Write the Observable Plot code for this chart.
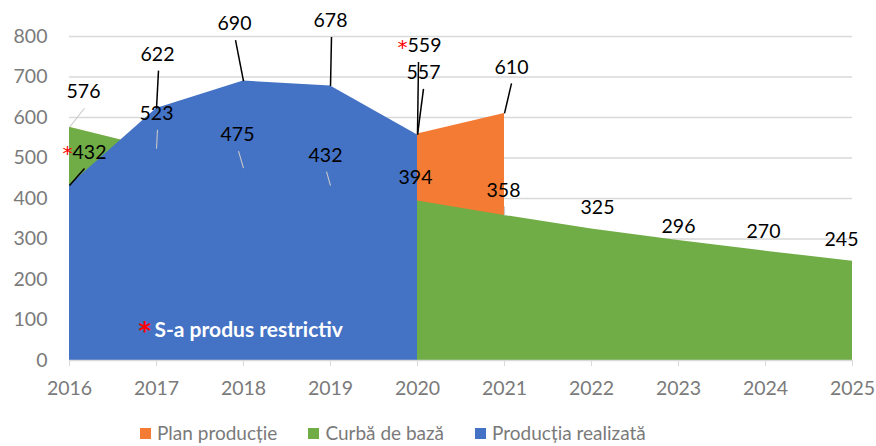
<!DOCTYPE html>
<html>
<head>
<meta charset="utf-8">
<script src="https://cdn.jsdelivr.net/npm/d3@7"></script>
<script src="https://cdn.jsdelivr.net/npm/@observablehq/plot@0.6"></script>
<style>
  html, body { margin: 0; padding: 0; background: #fff; overflow: hidden; }
  #wrap { position: relative; width: 876px; height: 446px; overflow: hidden; font-family: Lato, "Open Sans", sans-serif; }
  #legend { position: absolute; left: 140px; top: 423px; display: flex; align-items: center; font-size: 19px; line-height: 20px; color: #7a7a7a; white-space: nowrap; }
  #legend .item { display: flex; align-items: center; margin-right: 31px; }
  #legend .sw { width: 11px; height: 11px; margin-right: 6px; }
</style>
</head>
<body>
<div id="wrap"><div id="chart"></div><div id="legend"></div></div>
<script>
// ---- data ----
const years = [2016, 2017, 2018, 2019, 2020, 2021, 2022, 2023, 2024, 2025];
const curbaDeBaza = [576, 523, 475, 432, 394, 358, 325, 296, 270, 245];
const realizataYears = [2016, 2017, 2018, 2019, 2020];
const productiaRealizata = [432, 622, 690, 678, 557];
const planYears = [2020, 2021];
const planProductie = [559, 610];
const realizataRestrictiv = [true, false, false, false, false];
const planRestrictiv = [true, false];
const yTicks = [0, 100, 200, 300, 400, 500, 600, 700, 800];
const seriesNames = ["Plan producție", "Curbă de bază", "Producția realizată"];
const noteText = "S-a produs restrictiv";

// ---- styling / layout ----
const colors = {"Plan producție": "#F47B34", "Curbă de bază": "#70AD47", "Producția realizată": "#4472C4"};
const W = 876, H = 420, ml = 69, mr = 24, mt = 36, mb = 60;
const yMax = 800;
const pxPerYear = (W - ml - mr) / (years[years.length - 1] - years[0]);
const pxPerUnit = (H - mt - mb) / yMax;
const toX = (yr, px) => yr + px / pxPerYear;
const toY = (v, py) => v - py / pxPerUnit;
// label offsets (px) from data point, leader flag / leader x-shift
const greenOffsets = [[14,-35],[0,-35],[-6,-33],[-5,-30],[-2,-23],[-1,-25],[6,-21],[0,-14],[-2,-19],[-11,-22]];
const greenLeader = [1, 1, 1, 1, 0, 1, 0, 0, 0, 0];
const blueOffsets = [[20,-33],[1,-54],[-9,-57],[0,-65],[6,-62]];
const blueLeaderX = [-5, 1, 1, 1, 0];
const orangeOffsets = [[7,-88],[7,-46]];
const orangeLeaderX = [-6, 0];
const FS = 19.5;
const starFont = "'DejaVu Sans', sans-serif";

const green = years.map((x, i) => ({x, y: curbaDeBaza[i]}));
const blue = realizataYears.map((x, i) => ({x, y: productiaRealizata[i]}));
const orange = planYears.map((x, i) => ({x, y: planProductie[i]}));

function labels(pts, offs) {
  return pts.map((p, i) => ({x: toX(p.x, offs[i][0]), y: toY(p.y, offs[i][1]), text: String(p.y)}));
}
function leaders(pts, offs, lx, flags) {
  return pts.filter((p, i) => !flags || flags[i]).map((p) => {
    const i = pts.indexOf(p);
    return {x1: p.x, y1: p.y, x2: toX(p.x, offs[i][0] + lx[i]), y2: toY(p.y, offs[i][1] + 16)};
  });
}
function stars(pts, offs, flags) {
  return pts.filter((p, i) => flags[i]).map((p) => {
    const i = pts.indexOf(p);
    return {x: toX(p.x, offs[i][0] - 22), y: toY(p.y, offs[i][1] + 1)};
  });
}

const greenLabels = labels(green, greenOffsets);
const blueLabels = labels(blue, blueOffsets);
const orangeLabels = labels(orange, orangeOffsets);
const greenLeaders = leaders(green, greenOffsets, greenOffsets.map(() => 1), greenLeader);
const blueLeaders = leaders(blue, blueOffsets, blueLeaderX);
const orangeLeaders = leaders(orange, orangeOffsets, orangeLeaderX);
const starPts = [...stars(blue, blueOffsets, realizataRestrictiv), ...stars(orange, orangeOffsets, planRestrictiv)];

const chart = Plot.plot({
  width: W, height: H,
  marginLeft: ml, marginRight: mr, marginTop: mt, marginBottom: mb,
  x: {domain: [years[0], years[years.length - 1]]},
  y: {domain: [0, yMax]},
  style: {fontFamily: "Lato, 'Open Sans', sans-serif", fontSize: FS + "px", color: "#7a7a7a", background: "#fff"},
  marks: [
    Plot.ruleY(yTicks.slice(1), {stroke: "#d9d9d9", strokeWidth: 1.3}),
    Plot.areaY(orange, {x: "x", y: "y", fill: colors["Plan producție"]}),
    Plot.areaY(green, {x: "x", y: "y", fill: colors["Curbă de bază"]}),
    Plot.areaY(blue, {x: "x", y: "y", fill: colors["Producția realizată"]}),
    Plot.ruleY([0], {stroke: "#d9d9d9", strokeWidth: 1.3}),
    Plot.axisY({ticks: yTicks, tickSize: 0, tickPadding: 22, fontSize: FS, color: "#7a7a7a"}),
    Plot.axisX({ticks: years, tickFormat: d => String(d), tickSize: 6, tickPadding: 15, fontSize: FS, color: "#7a7a7a", stroke: "#d9d9d9"}),
    Plot.link(greenLeaders, {x1: "x1", y1: "y1", x2: "x2", y2: "y2", stroke: "#c8c8c8", strokeWidth: 1.1}),
    Plot.link(blueLeaders, {x1: "x1", y1: "y1", x2: "x2", y2: "y2", stroke: "#000", strokeWidth: 1.5}),
    Plot.link(orangeLeaders, {x1: "x1", y1: "y1", x2: "x2", y2: "y2", stroke: "#000", strokeWidth: 1.5}),
    Plot.text(greenLabels, {x: "x", y: "y", text: "text", fill: "#000", fontSize: FS}),
    Plot.text(blueLabels, {x: "x", y: "y", text: "text", fill: "#000", fontSize: FS}),
    Plot.text(orangeLabels, {x: "x", y: "y", text: "text", fill: "#000", fontSize: FS}),
    Plot.text(starPts, {x: "x", y: "y", text: () => "*", fill: "#ff0000", fontSize: 20, fontFamily: starFont}),
    Plot.text([noteText], {frameAnchor: "bottom-left", lineAnchor: "middle", dx: 69, dy: -29, text: () => "*", fill: "#ff0000", fontSize: 24, fontWeight: "bold", fontFamily: starFont}),
    Plot.text([noteText], {frameAnchor: "bottom-left", lineAnchor: "middle", dx: 85, dy: -30, text: d => d, fill: "#fff", fontSize: 21, fontWeight: "bold", textAnchor: "start"})
  ]
});
document.getElementById("chart").appendChild(chart);

const legend = document.getElementById("legend");
for (const name of seriesNames) {
  const item = document.createElement("div");
  item.className = "item";
  const sw = document.createElement("span");
  sw.className = "sw";
  sw.style.background = colors[name];
  const t = document.createElement("span");
  t.textContent = name;
  item.appendChild(sw); item.appendChild(t);
  legend.appendChild(item);
}
</script>
</body>
</html>
